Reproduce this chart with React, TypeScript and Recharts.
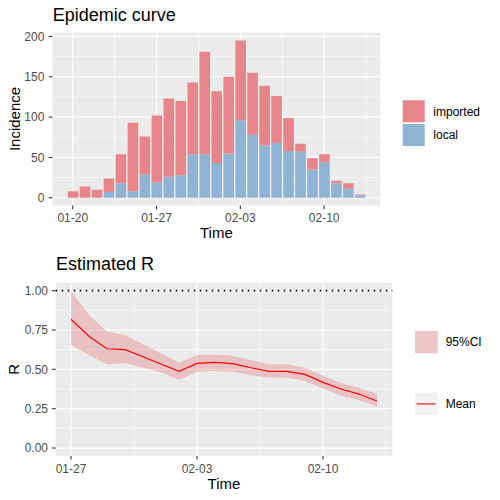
import React from 'react';
import {
  BarChart, Bar, ComposedChart, Area, Line, XAxis, YAxis, CartesianGrid, ReferenceLine,
} from 'recharts';

const FONT = '"Liberation Sans", Arial, Helvetica, sans-serif';

// ---- Epidemic curve data ----
const incidenceDates = [
  '01-20', '01-21', '01-22', '01-23', '01-24', '01-25', '01-26', '01-27', '01-28', '01-29',
  '01-30', '01-31', '02-01', '02-02', '02-03', '02-04', '02-05', '02-06', '02-07', '02-08',
  '02-09', '02-10', '02-11', '02-12', '02-13',
];
const localCases = [0, 0, 0, 7, 18, 8, 29, 19, 26, 28, 54, 54, 43, 55, 96, 78, 65, 68, 58, 57, 35, 44, 18, 11, 3];
const importedCases = [8, 14, 10, 17, 36, 85, 47, 83, 97, 92, 89, 127, 89, 95, 99, 77, 74, 58, 41, 10, 14, 10, 3, 7, 1];
const incidenceXTicks = ['01-20', '01-27', '02-03', '02-10'];
const incidenceYTicks = [0, 50, 100, 150, 200];
const incidenceYMinor = [25, 75, 125, 175];

// ---- Estimated R data ----
const rDates = [
  '01-27', '01-28', '01-29', '01-30', '01-31', '02-01', '02-02', '02-03', '02-04', '02-05',
  '02-06', '02-07', '02-08', '02-09', '02-10', '02-11', '02-12', '02-13',
];
const rMean = [0.818, 0.71, 0.631, 0.625, 0.58, 0.534, 0.487, 0.538, 0.544, 0.536, 0.51, 0.487, 0.487, 0.468, 0.417, 0.375, 0.343, 0.299];
const rUpper = [0.998, 0.845, 0.739, 0.718, 0.659, 0.6, 0.544, 0.591, 0.595, 0.585, 0.56, 0.532, 0.532, 0.51, 0.46, 0.413, 0.383, 0.343];
const rLower = [0.655, 0.591, 0.532, 0.538, 0.51, 0.481, 0.434, 0.485, 0.49, 0.485, 0.462, 0.449, 0.449, 0.426, 0.379, 0.333, 0.305, 0.263];
const rXTicks = ['01-27', '02-03', '02-10'];
const rYTicks = [0, 0.25, 0.5, 0.75, 1];
const rYMinor = [0.125, 0.375, 0.625, 0.875];

const IMPORTED = '#E8858A';
const LOCAL = '#8FB4D3';
const PANEL = '#EBEBEB';

const midpoints = (ticks: number[], lo: number, hi: number) => {
  const step = ticks[1] - ticks[0];
  const out: number[] = [];
  for (let v = ticks[0] - step / 2; v <= hi; v += step) if (v >= lo) out.push(v);
  return out;
};

const tickStyle = { fill: '#4D4D4D', fontSize: 12, fontFamily: FONT };
const tickLine = { stroke: '#333333', strokeWidth: 1.1 };

export default function App() {
  const incData = incidenceDates.map((d, i) => ({ x: i, local: localCases[i], imported: importedCases[i] }));
  const incTickIdx = incidenceXTicks.map((t) => incidenceDates.indexOf(t));
  const incDomain: [number, number] = [-1.7, 25.7];
  const incXMinor = midpoints(incTickIdx, incDomain[0], incDomain[1]);

  const rData = rDates.map((d, i) => ({ x: i, band: [rLower[i], rUpper[i]], mean: rMean[i] }));
  const rTickIdx = rXTicks.map((t) => rDates.indexOf(t));
  const rDomain: [number, number] = [-0.85, 17.85];
  const rXMinor = midpoints(rTickIdx, rDomain[0], rDomain[1]);

  return (
    <div style={{ position: 'absolute', left: 0, top: 0, width: 500, height: 500, background: '#fff', fontFamily: FONT }}>
      <div style={{ position: 'absolute', left: 0, top: 0 }}>
        <BarChart
          width={500}
          height={250}
          data={incData}
          margin={{ top: 32.6, right: 119.6, bottom: 19.4, left: 0 }}
          barSize={10.6}
        >
          <CartesianGrid
            fill={PANEL}
            stroke="#FFFFFF"
            strokeWidth={0.6}
            horizontalValues={incidenceYMinor}
            verticalValues={incXMinor}
          />
          <CartesianGrid
            stroke="#FFFFFF"
            strokeWidth={1.2}
            horizontalValues={incidenceYTicks}
            verticalValues={incTickIdx}
          />
          <XAxis
            dataKey="x"
            type="number"
            domain={incDomain}
            allowDataOverflow
            ticks={incTickIdx}
            tickFormatter={(v: number) => incidenceDates[v]}
            axisLine={false}
            tickLine={tickLine}
            tickSize={3.7}
            tickMargin={4.5}
            tick={tickStyle}
            height={25}
            interval={0}
          />
          <YAxis
            type="number"
            domain={[-9.75, 204.75]}
            allowDataOverflow
            ticks={incidenceYTicks}
            axisLine={false}
            tickLine={tickLine}
            tickSize={3.7}
            tickMargin={4.3}
            tick={tickStyle}
            width={52.4}
            interval={0}
          />
          <Bar dataKey="local" stackId="a" fill={LOCAL} isAnimationActive={false} />
          <Bar dataKey="imported" stackId="a" fill={IMPORTED} isAnimationActive={false} />
        </BarChart>
      </div>

      <div style={{ position: 'absolute', left: 0, top: 250 }}>
        <ComposedChart
          width={500}
          height={250}
          data={rData}
          margin={{ top: 32.8, right: 107.7, bottom: 19.1, left: 0 }}
        >
          <CartesianGrid
            fill={PANEL}
            stroke="#FFFFFF"
            strokeWidth={0.6}
            horizontalValues={rYMinor}
            verticalValues={rXMinor}
          />
          <CartesianGrid
            stroke="#FFFFFF"
            strokeWidth={1.2}
            horizontalValues={rYTicks}
            verticalValues={rTickIdx}
          />
          <XAxis
            dataKey="x"
            type="number"
            domain={rDomain}
            allowDataOverflow
            ticks={rTickIdx}
            tickFormatter={(v: number) => rDates[v]}
            axisLine={false}
            tickLine={tickLine}
            tickSize={3.7}
            tickMargin={4.5}
            tick={tickStyle}
            height={25}
            interval={0}
          />
          <YAxis
            type="number"
            domain={[-0.05, 1.05]}
            allowDataOverflow
            ticks={rYTicks}
            tickFormatter={(v: number) => v.toFixed(2)}
            axisLine={false}
            tickLine={tickLine}
            tickSize={3.7}
            tickMargin={4.0}
            tick={tickStyle}
            width={55.7}
            interval={0}
          />
          <Area
            dataKey="band"
            type="linear"
            fill="#E41A1C"
            fillOpacity={0.2}
            stroke="none"
            isAnimationActive={false}
            activeDot={false}
          />
          <Line
            dataKey="mean"
            type="linear"
            stroke="#FF0000"
            strokeWidth={1.2}
            dot={false}
            activeDot={false}
            isAnimationActive={false}
          />
          <ReferenceLine y={1} stroke="#000000" strokeWidth={1.6} strokeDasharray="1.6 4.4" />
        </ComposedChart>
      </div>

      <svg
        width={500}
        height={500}
        style={{ position: 'absolute', left: 0, top: 0, pointerEvents: 'none' }}
        fontFamily={FONT}
      >
        <text x={52.7} y={20.7} fontSize={18} fill="#000">Epidemic curve</text>
        <text x={56} y={270} fontSize={18} fill="#000">Estimated R</text>
        <text x={216.4} y={238.3} fontSize={15} textAnchor="middle" fill="#000">Time</text>
        <text x={224} y={488.8} fontSize={15} textAnchor="middle" fill="#000">Time</text>
        <text x={19.5} y={119} fontSize={15} textAnchor="middle" fill="#000" transform="rotate(-90 19.5 119)">Incidence</text>
        <text x={19.5} y={369.4} fontSize={15} textAnchor="middle" fill="#000" transform="rotate(-90 19.5 369.4)">R</text>

        <rect x={402.7} y={100.3} width={22} height={22} fill={IMPORTED} />
        <rect x={402.7} y={124} width={22} height={22} fill={LOCAL} />
        <text x={433.3} y={115.5} fontSize={12} fill="#000">imported</text>
        <text x={433.3} y={139.3} fontSize={12} fill="#000">local</text>

        <rect x={415} y={331} width={22.7} height={22.3} fill="#F2F2F2" />
        <rect x={415} y={331} width={22.7} height={22.3} fill="#E41A1C" fillOpacity={0.2} />
        <text x={445.7} y={346.3} fontSize={12} fill="#000">95%CI</text>
        <rect x={415} y={392.7} width={22.7} height={22.3} fill="#F2F2F2" />
        <line x1={416.7} x2={435.7} y1={403.9} y2={403.9} stroke="#FF0000" strokeWidth={1.1} />
        <text x={445.7} y={408.3} fontSize={12} fill="#000">Mean</text>
      </svg>
    </div>
  );
}
